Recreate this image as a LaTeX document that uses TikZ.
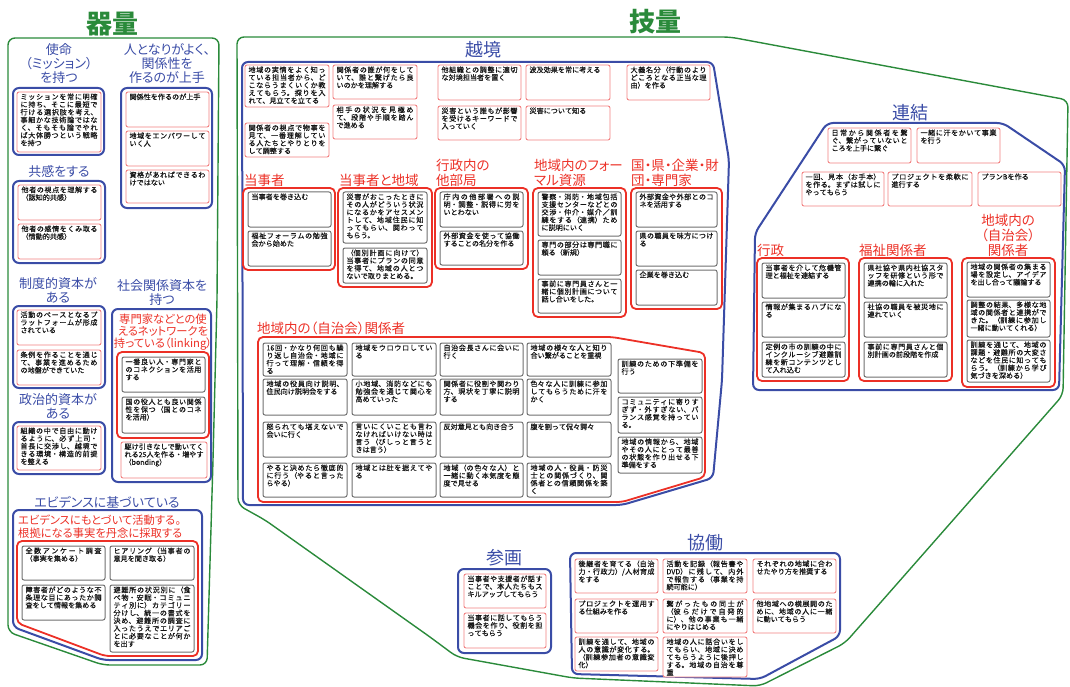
\documentclass[tikz,border=0pt]{standalone}
\usepackage{fontspec}
\setmainfont{Noto Sans CJK JP}
\newfontfamily\headfont{Noto Sans CJK JP}[RawFeature=+palt]
\newfontfamily\cardfont{Noto Sans CJK JP}[FakeBold=0.3]
\XeTeXlinebreaklocale "ja"
\XeTeXlinebreakskip=0pt plus 1pt
\usetikzlibrary{positioning}
\definecolor{kgreen}{RGB}{42,138,58}
\definecolor{kblue}{RGB}{58,76,166}
\definecolor{kred}{RGB}{236,48,38}
\definecolor{kpink}{RGB}{242,128,128}
\definecolor{kgray}{RGB}{112,112,112}
\definecolor{ktext}{RGB}{20,20,20}
\tikzset{
	greenline/.style={draw=kgreen, line width=1.4pt, rounded corners=7pt},
	blueline/.style={draw=kblue, line width=2pt, rounded corners=6pt},
	redline/.style={draw=kred, line width=1.8pt, rounded corners=5pt},
	card/.style={rounded corners=2pt, fill=white, text=ktext, inner xsep=3.5pt, inner ysep=1.5pt, outer sep=0pt},
	pinkbox/.style={card, draw=kpink, line width=0.9pt},
	graybox/.style={card, draw=kgray, line width=1pt}
}
\newcommand{\cardnode}[7]{\node[#1, anchor=north west, minimum width=#5pt, minimum height=#6pt] (#2) at (#3,#4) {\parbox[t][\dimexpr#6pt-3pt\relax][t]{\dimexpr#5pt-7pt\relax}{\cardfont\fontsize{7.1}{7.7}\selectfont #7}};}

\begin{document}
\begin{tikzpicture}[x=1pt, y=-1pt,
	bigtitle/.style={text=kgreen, font=\headfont\bfseries\fontsize{26}{28}\selectfont},
	bluetitle/.style={text=kblue, font=\headfont\fontsize{18}{20}\selectfont},
	bluehead/.style={text=kblue, font=\headfont\fontsize{13}{14}\selectfont, align=center, inner sep=0pt},
	redhead/.style={text=kred, font=\headfont\fontsize{13.5}{15}\selectfont, align=left, inner sep=0pt, anchor=west},
	redsub/.style={text=kred, font=\headfont\fontsize{11.3}{12.3}\selectfont, inner sep=0pt}]
	\useasboundingbox (0,0) rectangle (1070,687);

	% 器量
	\node[bigtitle] (kiryo) at (112,24) {器量};
	\draw[greenline] (8,38) -- (219,38) -- (217,300) -- (213,460) -- (207,665) -- (103,665) -- (8,632) -- cycle;

	\node[bluehead] (shimei) at (59,64) {使命\\（ミッション）\\を持つ};
	\draw[blueline] (13,88) rectangle (104,155);
	\cardnode{pinkbox}{mission}{17}{92}{84}{60}{ミッションを常に明確に持ち、そこに最短で行ける選択肢を考え、事細かな技術論ではなく、そもそも論でやれば大体勝つという戦略を持つ}

	\node[bluehead] (hitogara) at (167,64) {人となりがよく、\\関係性を\\作るのが上手};
	\draw[blueline] (121,88) rectangle (212,208);
	\cardnode{pinkbox}{rel1}{126}{92}{83}{35}{関係性を作るのが上手}
	\cardnode{pinkbox}{rel2}{126}{131}{83}{35}{地域をエンパワーしていく人}
	\cardnode{pinkbox}{rel3}{126}{170}{83}{33}{資格があればできるわけではない}

	\node[bluehead] (kyokan) at (59,172) {共感をする};
	\draw[blueline] (13,181) rectangle (105,263);
	\cardnode{pinkbox}{emp1}{18}{185}{83}{35}{他者の視点を理解する（認知的共感）}
	\cardnode{pinkbox}{emp2}{18}{224}{83}{35}{他者の感情をくみ取る（情動的共感）}

	\node[bluehead] (seido) at (58,290) {制度的資本が\\ある};
	\draw[blueline] (13,306) rectangle (105,388);
	\cardnode{pinkbox}{inst1}{17}{310}{84}{35}{活動のベースとなるプラットフォームが形成されている}
	\cardnode{pinkbox}{inst2}{17}{350}{84}{35}{条例を作ることを通じて、事業を進めるための地盤ができていた}

	\node[bluehead] (seiji) at (58,406) {政治的資本が\\ある};
	\draw[blueline] (13,422) rectangle (105,474);
	\cardnode{pinkbox}{pol1}{17}{426}{84}{44}{組織の中で自由に動けるように、必ず上司・首長に交渉し、越境できる環境・構造的前提を整える}

	\node[bluehead] (shakai) at (162,293) {社会関係資本を\\持つ};
	\draw[blueline] (112,309) rectangle (211,482);
	\node[redsub, align=center] (linking) at (163,332) {専門家などとの使\\えるネットワークを\\持っている（linking）};
	\draw[redline] (117,352) rectangle (209,438);
	\cardnode{graybox}{link1}{122}{357}{83}{35}{一番良い人・専門家とのコネクションを活用する}
	\cardnode{graybox}{link2}{122}{397}{83}{36}{国の役人とも良い関係性を保つ（国とのコネを活用）}
	\cardnode{pinkbox}{bond}{121}{442}{86}{36}{駆け引きなしで動いてくれる25人を作る・増やす（bonding）}

	\node[bluehead] (ebidensu) at (107,502) {エビデンスに基づいている};
	\draw[blueline] (13,510) -- (202,510) -- (202,660) -- (103,660) -- (13,627) -- cycle;
	\node[redsub, align=left, anchor=west] (konkyo) at (18,526.5) {エビデンスにもとづいて活動する。\\根拠になる事実を丹念に採取する};
	\draw[redline] (17,541) -- (198,541) -- (198,656) -- (105,656) -- (17,623) -- cycle;
	\cardnode{graybox}{ev1}{22}{546}{83}{34}{全数アンケート調査（事実を集める）}
	\cardnode{graybox}{ev2}{110}{546}{84}{34}{ヒアリング（当事者の意見を聞き取る）}
	\cardnode{graybox}{ev3}{22}{585}{83}{35}{障害者がどのような不条理な目にあったか調査をして情報を集める}
	\cardnode{graybox}{ev4}{110}{585}{84}{67}{避難所の状況別に（食べ物・安眠・コミュニティ別に）カテゴリー分けし、統一の書式を決め、避難所の調査に入ったうえでエリアごとに必要なことが何かを出す}

	% 技量
	\node[bigtitle] (giryo) at (655,22) {技量};
	\draw[greenline] (237,37) -- (730,37) -- (1068,100) -- (1063,395) -- (845,643) -- (760,686) -- (573,678) -- (457,657) -- (430,637) -- (265,520) -- (238,505) -- cycle;

	% 越境
	\node[bluetitle] (ekkyo) at (483,50) {越境};
	\draw[blueline] (242,62) -- (713,62) -- (729,160) -- (722,380) -- (713,478) -- (622,505) -- (243,505) -- cycle;
	\cardnode{pinkbox}{ek1}{245}{65}{84}{42}{地域の実情をよく知っている担当者から、どこならうまくいくか教えてもらう。探りを入れて、見立てを立てる}
	\cardnode{pinkbox}{ek2}{333}{65}{84}{34}{関係者の誰が何をしていて、誰と繋げたら良いのかを理解する}
	\cardnode{pinkbox}{ek3}{438}{65}{83}{35}{他組織との調整に適切な対境担当者を置く}
	\cardnode{pinkbox}{ek4}{526}{65}{84}{35}{波及効果を常に考える}
	\cardnode{pinkbox}{ek5}{627}{65}{83}{35}{大義名分（行動のよりどころとなる正当な理由）を作る}
	\cardnode{pinkbox}{ek6}{245}{123}{84}{34}{関係者の視点で物事を見て、一番理解している人たちとやりとりをして調整する}
	\cardnode{pinkbox}{ek7}{333}{105}{84}{34}{相手の状況を見極めて、段階や手順を踏んで進める}
	\cardnode{pinkbox}{ek8}{438}{106}{83}{34}{災害という誰もが影響を受けるキーワードで入っていく}
	\cardnode{pinkbox}{ek9}{526}{106}{84}{34}{災害について知る}

	\node[redhead] (tojisha) at (244,180) {当事者};
	\draw[redline] (243,188) rectangle (335,270);
	\cardnode{graybox}{tj1}{248}{192}{83}{35}{当事者を巻き込む}
	\cardnode{graybox}{tj2}{248}{231}{83}{35}{福祉フォーラムの勉強会から始めた}

	\node[redhead] (tochiiki) at (339,180) {当事者と地域};
	\draw[redline] (338,188) rectangle (432,287);
	\cardnode{graybox}{tc1}{343}{192}{84}{51}{災害がおこったときにその人がどういう状況になるかをアセスメントして、地域住民に知ってもらい、関わってもらう。}
	\cardnode{graybox}{tc2}{343}{248}{84}{35}{（個別計画に向けて）当事者にプランの同意を得て、地域の人とつないで取りまとめる。}

	\node[redhead] (tabukyoku) at (436,172.5) {行政内の\\他部局};
	\draw[redline] (435,188) rectangle (528,269);
	\cardnode{graybox}{gb1}{440}{192}{83}{35}{庁内の他部署への説明・調整・説得に労をいとわない}
	\cardnode{graybox}{gb2}{440}{231}{83}{34}{外部資金を使って協働することの名分を作る}

	\node[redhead] (formal) at (534,172.5) {地域内のフォー\\マル資源};
	\draw[redline] (533,188) rectangle (626,317);
	\cardnode{graybox}{fr1}{538}{192}{83}{44}{警察・消防・地域包括支援センターなどとの交渉・仲介・媒介／訓練をする（連携）ために説明にいく}
	\cardnode{graybox}{fr2}{538}{240}{83}{35}{専門の部分は専門職に頼る（新規）}
	\cardnode{graybox}{fr3}{538}{279}{83}{34}{事前に専門員さんと一緒に個別計画について話し合いをした。}

	\node[redhead] (kuniken) at (631,172.5) {国・県・企業・財\\団・専門家};
	\draw[redline] (631,188) rectangle (722,309);
	\cardnode{graybox}{ex1}{636}{192}{81}{35}{外部資金や外部とのコネを活用する}
	\cardnode{graybox}{ex2}{636}{231}{81}{35}{県の職員を味方につける}
	\cardnode{graybox}{ex3}{636}{270}{81}{35}{企業を巻き込む}

	\node[redhead] (jichikai) at (257,328) {地域内の（自治会）関係者};
	\draw[redline] (258,337) -- (612,337) -- (705,353) -- (705,477) -- (622,502) -- (258,502) -- cycle;
	\cardnode{graybox}{jc11}{263}{343}{84}{33}{16回・かなり何回も繰り返し自治会・地域に行って理解・信頼を得る}
	\cardnode{graybox}{jc12}{352}{343}{84}{33}{地域をウロウロしている}
	\cardnode{graybox}{jc13}{440}{343}{83}{33}{自治会長さんに会いに行く}
	\cardnode{graybox}{jc14}{527}{343}{84}{33}{地域の様々な人と知り合い繋がることを重視}
	\cardnode{graybox}{jc21}{263}{379}{84}{36}{地域の役員向け説明、住民向け説明会をする}
	\cardnode{graybox}{jc22}{352}{379}{84}{36}{小地域、消防などにも勉強会を通じて関心を高めていった}
	\cardnode{graybox}{jc23}{440}{379}{83}{36}{関係者に役割や関わり方、現状を丁寧に説明する}
	\cardnode{graybox}{jc24}{527}{379}{84}{36}{色々な人に訓練に参加してもらうために汗をかく}
	\cardnode{graybox}{jc31}{263}{422}{84}{35}{怒られても堪えないで会いに行く}
	\cardnode{graybox}{jc32}{352}{422}{84}{35}{言いにくいことも言わなければいけない時は言う（びしっと言うときは言う）}
	\cardnode{graybox}{jc33}{440}{422}{83}{35}{反対意見とも向き合う}
	\cardnode{graybox}{jc34}{527}{422}{84}{35}{腹を割って侃々諤々}
	\cardnode{graybox}{jc41}{263}{463}{84}{34}{やると決めたら徹底的に行う（やると言ったらやる）}
	\cardnode{graybox}{jc42}{352}{463}{84}{34}{地域とは肚を据えてやる}
	\cardnode{graybox}{jc43}{440}{463}{83}{34}{地域（の色々な人）と一緒に動く本気度を態度で見せる}
	\cardnode{graybox}{jc44}{527}{463}{84}{34}{地域の人・役員・防災士との関係づくり、関係者との信頼関係を築く}
	\cardnode{graybox}{jc51}{618}{359}{84}{34}{訓練のための下準備を行う}
	\cardnode{graybox}{jc52}{618}{397}{84}{36}{コミュニティに寄りすぎず・外すぎない、バランス感覚を持っている。}
	\cardnode{graybox}{jc53}{618}{437}{84}{36}{地域の情報から、地域やその人にとって最善の状態を作り出せる下準備をする}

	% 連結
	\node[bluetitle] (renketsu) at (910,113) {連結};
	\draw[blueline] (827,123) -- (1003,123) -- (1065,165) -- (1059,390) -- (753,390) -- (755,233) -- cycle;
	\cardnode{pinkbox}{rk1}{828}{128}{83}{35}{日常から関係者を繋ぐ、繋がっていないところを上手に繋ぐ}
	\cardnode{pinkbox}{rk2}{917}{128}{83}{35}{一緒に汗をかいて事業を行う}
	\cardnode{pinkbox}{rk3}{802}{172}{82}{34}{一回、見本（お手本）を作る。まずは試しにやってもらう}
	\cardnode{pinkbox}{rk4}{888}{172}{84}{34}{プロジェクトを柔軟に進行する}
	\cardnode{pinkbox}{rk5}{978}{172}{83}{34}{プランBを作る}

	\node[redhead] (gyosei) at (757,250) {行政};
	\draw[redline] (757,258) rectangle (849,381);
	\cardnode{graybox}{gy1}{762}{263}{83}{35}{当事者を介して危機管理と福祉を連結する}
	\cardnode{graybox}{gy2}{762}{302}{83}{35}{情報が集まるハブになる}
	\cardnode{graybox}{gy3}{762}{342}{83}{35}{定例の市の訓練の中にインクルーシブ避難訓練を新コンテンツとして入れ込む}

	\node[redhead] (fukushi) at (859,250) {福祉関係者};
	\draw[redline] (859,258) rectangle (952,381);
	\cardnode{graybox}{fk1}{864}{263}{83}{35}{県社協や県内社協スタッフを研修という形で連携の輪に入れた}
	\cardnode{graybox}{fk2}{864}{302}{83}{35}{社協の職員を被災地に連れていく}
	\cardnode{graybox}{fk3}{864}{342}{83}{35}{事前に専門員さんと個別計画の前段階を作成}

	\node[redhead, align=center, anchor=center] (chiikinai) at (1008,235) {地域内の\\（自治会）\\関係者};
	\draw[redline] (962,258) rectangle (1055,387);
	\cardnode{graybox}{cn1}{967}{262}{83}{35}{地域の関係者の集まる場を設定し、アイデアを出し合って議論する}
	\cardnode{graybox}{cn2}{967}{300}{83}{37}{調整の結果、多様な地域の関係者と連携ができた。（訓練に参加し一緒に動いてくれる）}
	\cardnode{graybox}{cn3}{967}{340}{83}{42}{訓練を通じて、地域の課題・避難所の大変さなどを住民に知ってもらう。（訓練から学び気づきを深める）}

	% 参画
	\node[bluetitle] (sankaku) at (504,558) {参画};
	\draw[blueline] (458,569) rectangle (551,653);
	\cardnode{pinkbox}{sk1}{464}{574}{82}{34}{当事者や支援者が話すことで、本人たちもスキルアップしてもらう}
	\cardnode{pinkbox}{sk2}{464}{613}{82}{35}{当事者に話してもらう機会を作り、役割を担ってもらう}

	% 協働
	\node[bluetitle] (kyodo) at (705,543) {協働};
	\draw[blueline] (570,553) -- (840,553) -- (840,636) -- (760,679) -- (572,674) -- cycle;
	\cardnode{pinkbox}{kd11}{575}{559}{83}{34}{後継者を育てる（自治力・行政力）/人材育成をする}
	\cardnode{pinkbox}{kd12}{663}{559}{84}{34}{活動を記録（報告書やDVD）に残して、内外で報告する（事業を持続可能に）}
	\cardnode{pinkbox}{kd13}{753}{559}{83}{34}{それぞれの地域に合わせたやり方を推奨する}
	\cardnode{pinkbox}{kd21}{575}{599}{83}{34}{プロジェクトを運用する仕組みを作る}
	\cardnode{pinkbox}{kd22}{663}{599}{84}{34}{繋がったもの同士が（彼らだけで自発的に）、他の事業も一緒にやりはじめる}
	\cardnode{pinkbox}{kd23}{753}{599}{83}{34}{他地域への横展開のために、地域の人に一緒に動いてもらう}
	\cardnode{pinkbox}{kd31}{575}{637}{83}{34}{訓練を通して、地域の人の意識が変化する。（訓練参加者の意識変化）}
	\cardnode{pinkbox}{kd32}{663}{637}{84}{40}{地域の人に話合いをしてもらい、地域に決めてもらうように後押しする。地域の自治を尊重}
\end{tikzpicture}
\end{document}
